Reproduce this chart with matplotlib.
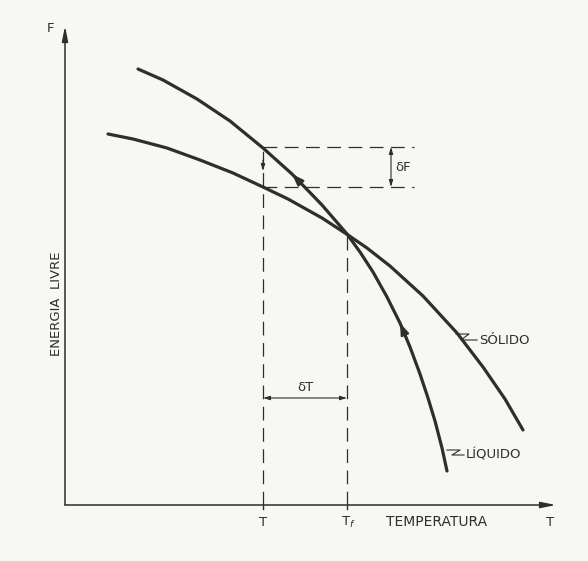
import matplotlib
matplotlib.use("Agg")
import matplotlib.pyplot as plt
import numpy as np

# curves (T, F in arbitrary units, origin at the axes corner)
liq_T = [73, 98, 132, 165, 198, 227, 257, 282, 295, 308, 322, 335, 345, 355, 363, 370, 377, 382]
liq_F = [436, 425, 406, 384, 357, 331, 300, 271, 253, 233, 208, 182, 158, 131, 107, 84, 57, 34]
sol_T = [43, 68, 102, 135, 168, 198, 223, 257, 283, 302, 325, 358, 392, 418, 440, 458]
sol_F = [371, 366, 357, 345, 332, 318, 306, 287, 270, 257, 239, 209, 172, 138, 106, 75]

T_under = 198      # T (supercooled)
T_melt = 282       # Tf
F_liq_at_T = 358
F_sol_at_T = 318
F_melt = 271

ink = "#2e2e2e"
bg = "#f7f7f4"

fig = plt.figure(figsize=(5.88, 5.61), dpi=100, facecolor=bg)
ax = fig.add_axes([0, 0, 1, 1])
ax.set_facecolor(bg)
ax.set_xlim(-65, 523)
ax.set_ylim(-56, 505)
ax.axis("off")

# axes with arrows
ax.annotate("", xy=(0, 479), xytext=(0, 0),
            arrowprops=dict(arrowstyle="-|>,head_length=0.9,head_width=0.18",
                            lw=1.1, color=ink, shrinkA=0, shrinkB=0))
ax.annotate("", xy=(491, 0), xytext=(0, 0),
            arrowprops=dict(arrowstyle="-|>,head_length=0.9,head_width=0.18",
                            lw=1.1, color=ink, shrinkA=0, shrinkB=0))
for t in [T_under, T_melt]:
    ax.plot([t, t], [0, -4], color=ink, lw=1.0)

# dashed construction lines
dash = dict(color=ink, lw=0.9, dashes=(11, 6))
ax.plot([T_under, T_under], [0, F_liq_at_T], **dash)
ax.plot([T_melt, T_melt], [0, F_melt], **dash)
ax.plot([T_under, 349], [F_liq_at_T, F_liq_at_T], **dash)
ax.plot([T_under, 349], [F_sol_at_T, F_sol_at_T], **dash)

# curves
ax.plot(liq_T, liq_F, color=ink, lw=2.3, solid_capstyle="round", solid_joinstyle="round")
ax.plot(sol_T, sol_F, color=ink, lw=2.3, solid_capstyle="round", solid_joinstyle="round")

# arrowheads along the liquid curve
for i in [5, 11]:
    ax.annotate("", xy=(liq_T[i], liq_F[i]), xytext=(liq_T[i + 1], liq_F[i + 1]),
                arrowprops=dict(arrowstyle="-|>,head_length=0.7,head_width=0.25",
                                lw=1.5, color=ink, shrinkA=0, shrinkB=0))
# small arrow on the dashed line at T
ax.annotate("", xy=(T_under, 334), xytext=(T_under, 345),
            arrowprops=dict(arrowstyle="-|>,head_length=0.4,head_width=0.12",
                            lw=0.8, color=ink, shrinkA=0, shrinkB=0))

# dF and dT dimension arrows
ax.annotate("", xy=(326, F_sol_at_T), xytext=(326, F_liq_at_T),
            arrowprops=dict(arrowstyle="<|-|>,head_length=0.4,head_width=0.12",
                            lw=0.8, color=ink, shrinkA=0, shrinkB=0))
ax.text(330, (F_liq_at_T + F_sol_at_T) / 2, "δF", fontsize=9.5, color=ink,
        ha="left", va="center")
ax.annotate("", xy=(T_under, 107), xytext=(T_melt, 107),
            arrowprops=dict(arrowstyle="<|-|>,head_length=0.4,head_width=0.12",
                            lw=0.8, color=ink, shrinkA=0, shrinkB=0))
ax.text((T_under + T_melt) / 2, 111, "δT", fontsize=9.5, color=ink,
        ha="center", va="bottom")

# curve labels with little zigzag leaders
labels = [("SÓLIDO", 391, 171, 414, 165), ("LÍQUIDO", 382, 55, 401, 50)]
for txt, cx, cy, lx, ly in labels:
    ax.plot([cx, cx + 13, cx + 5, lx - 2], [cy, cy, ly, ly], color=ink, lw=0.8)
    ax.text(lx, ly, txt, fontsize=9.5, color=ink, ha="left", va="center")

# axis labels
ax.text(-15, 477, "F", fontsize=9.5, color=ink, ha="center", va="center")
ax.text(-9, 201, "ENERGIA  LIVRE", fontsize=9.5, color=ink, rotation=90,
        ha="center", va="center")
ax.text(T_under, -17, "T", fontsize=9.5, color=ink, ha="center", va="center")
ax.text(T_melt + 1, -17, "T$_f$", fontsize=9.5, color=ink, ha="center", va="center")
ax.text(372, -17, "TEMPERATURA", fontsize=10, color=ink, ha="center", va="center")
ax.text(485, -17, "T", fontsize=9.5, color=ink, ha="center", va="center")

fig.savefig("out.png", dpi=100, facecolor=bg)
